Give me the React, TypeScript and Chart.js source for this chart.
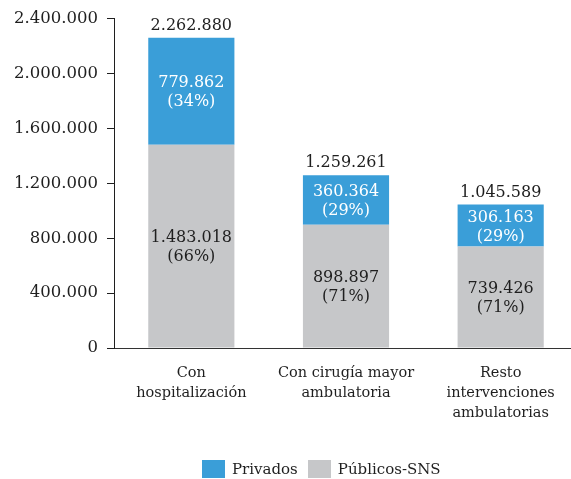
import React, { useEffect, useRef } from 'react';
import { Chart, registerables } from 'chart.js';

Chart.register(...registerables);

const categories: string[][] = [
  ['Con', 'hospitalización'],
  ['Con cirugía mayor', 'ambulatoria'],
  ['Resto', 'intervenciones', 'ambulatorias'],
];
const publicosValues = [1483018, 898897, 739426];
const privadosValues = [779862, 360364, 306163];
const publicosPct = [66, 71, 71];
const privadosPct = [34, 29, 29];
const totalValues = [2262880, 1259261, 1045589];
const yTickValues = [0, 400000, 800000, 1200000, 1600000, 2000000, 2400000];

const seriesNames = ['Públicos-SNS', 'Privados'];
const seriesColors = ['#c6c7c9', '#3a9ed8'];
const seriesLabelColors = ['#1f1f1f', '#ffffff'];
const seriesPcts = [publicosPct, privadosPct];

const FONT = '"DejaVu Serif", "Liberation Serif", serif';

const fmt = (n: number) => String(n).replace(/\B(?=(\d{3})+(?!\d))/g, '.');

const labelPlugin = {
  id: 'barLabels',
  afterDatasetsDraw(chart: any) {
    const ctx = chart.ctx;
    ctx.save();
    ctx.font = `16px ${FONT}`;
    ctx.textAlign = 'center';
    ctx.textBaseline = 'middle';
    chart.data.datasets.forEach((ds: any, di: number) => {
      const meta = chart.getDatasetMeta(di);
      meta.data.forEach((bar: any, i: number) => {
        const { x, y, base } = bar.getProps(['x', 'y', 'base'], true);
        const cy = (y + base) / 2;
        ctx.fillStyle = seriesLabelColors[di];
        ctx.fillText(fmt(ds.data[i]), x, cy - 8);
        ctx.fillText(`(${seriesPcts[di][i]}%)`, x, cy + 11);
      });
    });
    const topMeta = chart.getDatasetMeta(chart.data.datasets.length - 1);
    topMeta.data.forEach((bar: any, i: number) => {
      const { x, y } = bar.getProps(['x', 'y'], true);
      ctx.fillStyle = '#1f1f1f';
      ctx.fillText(fmt(totalValues[i]), x, y - 12);
    });
    ctx.restore();
  },
};

export default function App() {
  const canvasRef = useRef<HTMLCanvasElement | null>(null);

  useEffect(() => {
    if (!canvasRef.current) return;
    const chart = new Chart(canvasRef.current, {
      type: 'bar',
      data: {
        labels: categories,
        datasets: [
          {
            label: seriesNames[0],
            data: publicosValues,
            backgroundColor: seriesColors[0],
            borderWidth: 0,
            categoryPercentage: 1,
            barPercentage: 0.557,
          },
          {
            label: seriesNames[1],
            data: privadosValues,
            backgroundColor: seriesColors[1],
            borderWidth: 0,
            categoryPercentage: 1,
            barPercentage: 0.557,
          },
        ],
      },
      options: {
        responsive: false,
        animation: false,
        layout: { padding: { top: 15, left: 0, right: 0, bottom: 0 } },
        plugins: {
          legend: { display: false },
          tooltip: { enabled: false },
        },
        scales: {
          x: {
            stacked: true,
            offset: true,
            grid: { display: false, drawTicks: false },
            border: { display: true, color: '#333333', width: 1 },
            ticks: {
              color: '#1f1f1f',
              padding: 15,
              maxRotation: 0,
              autoSkip: false,
              font: { family: FONT, size: 14.5, lineHeight: '20px' },
            },
            afterFit: (scale: any) => {
              scale.height = 131;
            },
          },
          y: {
            stacked: true,
            min: 0,
            max: 2400000,
            grid: {
              display: true,
              drawOnChartArea: false,
              drawTicks: true,
              tickLength: 7,
              color: '#1f1f1f',
              lineWidth: 1,
            },
            border: { display: true, color: '#1f1f1f', width: 1 },
            afterBuildTicks: (scale: any) => {
              scale.ticks = yTickValues.map((v) => ({ value: v }));
            },
            ticks: {
              color: '#1f1f1f',
              padding: 9,
              font: { family: FONT, size: 16.5 },
              callback: (v: any) => fmt(Number(v)),
            },
            afterFit: (scale: any) => {
              scale.width = 114;
            },
          },
        },
      },
      plugins: [labelPlugin],
    });
    return () => chart.destroy();
  }, []);

  const legendOrder = [1, 0];

  return (
    <div
      style={{
        position: 'fixed',
        left: 0,
        top: 0,
        width: 571,
        height: 479,
        overflow: 'hidden',
        background: '#ffffff',
      }}
    >
      <canvas
        ref={canvasRef}
        width={578}
        height={479}
        style={{ position: 'absolute', left: 0, top: 0, width: 578, height: 479 }}
      />
      <div
        style={{
          position: 'absolute',
          left: 202,
          top: 460,
          display: 'flex',
          alignItems: 'center',
          fontFamily: FONT,
          fontSize: 15,
          color: '#1f1f1f',
          lineHeight: '18px',
          whiteSpace: 'nowrap',
        }}
      >
        {legendOrder.map((si, k) => (
          <div key={si} style={{ display: 'flex', alignItems: 'center', marginLeft: k === 0 ? 0 : 10 }}>
            <span
              style={{
                display: 'inline-block',
                width: 23,
                height: 18,
                background: seriesColors[si],
                marginRight: 7,
              }}
            />
            <span>{seriesNames[si]}</span>
          </div>
        ))}
      </div>
    </div>
  );
}
